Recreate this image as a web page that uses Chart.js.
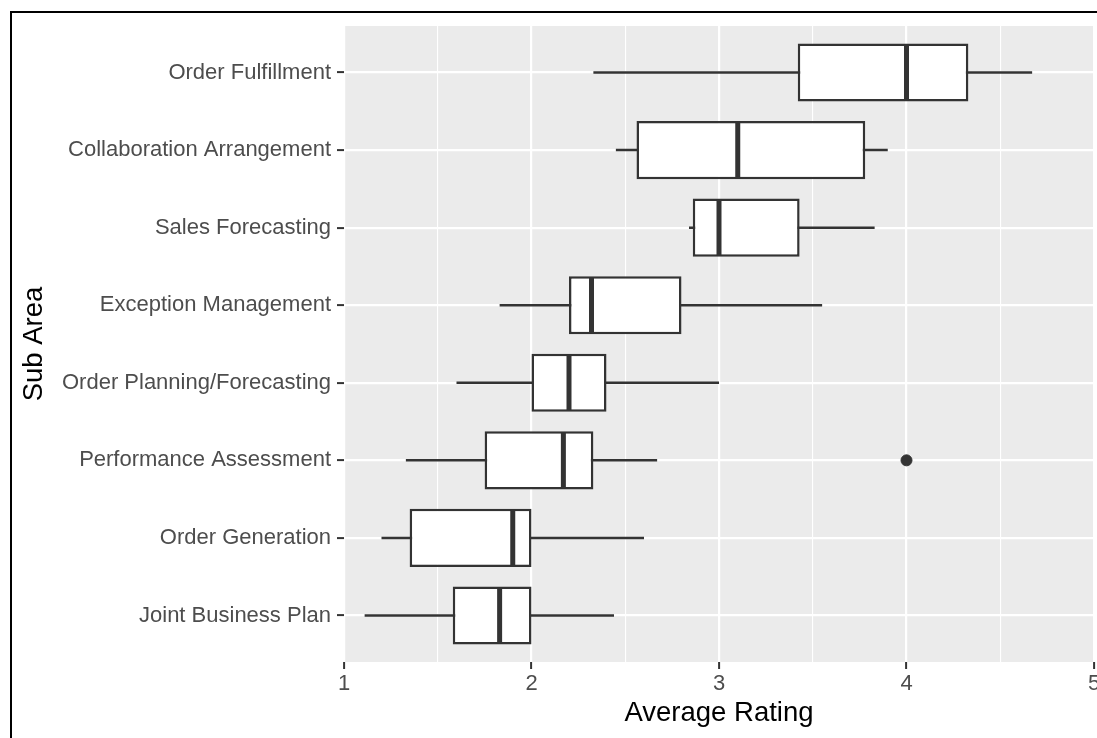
<!DOCTYPE html>
<html>
<head>
<meta charset="utf-8">
<script src="https://cdn.jsdelivr.net/npm/chart.js@4.4.1/dist/chart.umd.min.js"></script>
<style>
  html, body { margin: 0; padding: 0; background: #fff; overflow: hidden; }
  #wrap { width: 1112px; height: 738px; }
</style>
</head>
<body>
<div id="wrap"><canvas id="boxChart" width="1112" height="738"></canvas></div>
<script>
// Sub areas, top to bottom
var subAreas = [
    "Order Fulfillment",
    "Collaboration Arrangement",
    "Sales Forecasting",
    "Exception Management",
    "Order Planning/Forecasting",
    "Performance Assessment",
    "Order Generation",
    "Joint Business Plan"
];

// box plot stats
var whiskerLow  = [2.33, 2.45, 2.84, 1.83, 1.60, 1.33, 1.20, 1.11];
var q1          = [3.42, 2.56, 2.86, 2.20, 2.00, 1.75, 1.35, 1.58];
var median      = [4.00, 3.10, 3.00, 2.32, 2.20, 2.17, 1.90, 1.83];
var q3          = [4.33, 3.78, 3.43, 2.80, 2.40, 2.33, 2.00, 2.00];
var whiskerHigh = [4.67, 3.90, 3.83, 3.55, 3.00, 2.67, 2.60, 2.44];

var outlierArea  = ["Performance Assessment"];
var outlierValue = [4.00];

var xTicks = [1, 1.5, 2, 2.5, 3, 3.5, 4, 4.5, 5];

var lineColor = "#333333";

// panel background + outer frame
var panelPlugin = {
    id: "panel",
    beforeDraw: function (chart) {
        var ctx = chart.ctx, a = chart.chartArea;
        ctx.save();
        ctx.fillStyle = "#ffffff";
        ctx.fillRect(0, 0, chart.width, chart.height);
        ctx.lineWidth = 2;
        ctx.strokeStyle = "#000000";
        ctx.strokeRect(11, 12, 2000, 2000);
        ctx.fillStyle = "#EBEBEB";
        ctx.fillRect(a.left, a.top, a.right - a.left, a.bottom - a.top);
        ctx.restore();
    }
};

// whiskers under the boxes, medians on top
var boxPlugin = {
    id: "boxParts",
    beforeDatasetsDraw: function (chart) {
        var ctx = chart.ctx, xs = chart.scales.x, ys = chart.scales.y;
        ctx.save();
        ctx.strokeStyle = lineColor;
        ctx.lineWidth = 2.5;
        for (var i = 0; i < subAreas.length; i++) {
            var y = ys.getPixelForValue(i + 1);
            ctx.beginPath();
            ctx.moveTo(xs.getPixelForValue(whiskerLow[i]), y);
            ctx.lineTo(xs.getPixelForValue(whiskerHigh[i]), y);
            ctx.stroke();
        }
        ctx.restore();
    },
    afterDatasetsDraw: function (chart) {
        var ctx = chart.ctx, xs = chart.scales.x, ys = chart.scales.y;
        var half = (ys.getPixelForValue(1.375) - ys.getPixelForValue(1));
        ctx.save();
        ctx.strokeStyle = lineColor;
        ctx.lineWidth = 5;
        for (var i = 0; i < subAreas.length; i++) {
            var y = ys.getPixelForValue(i + 1);
            var x = xs.getPixelForValue(median[i]);
            ctx.beginPath();
            ctx.moveTo(x, y - half + 1);
            ctx.lineTo(x, y + half - 1);
            ctx.stroke();
        }
        ctx.restore();
    }
};

var boxes = {
    type: "bar",
    label: "IQR",
    data: subAreas.map(function (s, i) { return { y: i + 1, x: [q1[i], q3[i]] }; }),
    backgroundColor: "#ffffff",
    borderColor: lineColor,
    borderWidth: 2.5,
    borderSkipped: false,
    categoryPercentage: 0.75,
    barPercentage: 1,
    order: 2
};

var outliers = {
    type: "scatter",
    label: "Outliers",
    data: outlierArea.map(function (s, i) { return { x: outlierValue[i], y: subAreas.indexOf(s) + 1 }; }),
    backgroundColor: lineColor,
    borderColor: lineColor,
    pointRadius: 5.5,
    order: 1
};

var config = {
    type: "bar",
    data: { datasets: [boxes, outliers] },
    options: {
        indexAxis: "y",
        responsive: false,
        animation: false,
        devicePixelRatio: 1,
        layout: { padding: { left: 11, top: 26, right: 18, bottom: 0 } },
        plugins: {
            legend: { display: false },
            tooltip: { enabled: false }
        },
        scales: {
            x: {
                type: "linear",
                axis: "x",
                position: "bottom",
                min: 1,
                max: 5,
                afterBuildTicks: function (axis) {
                    axis.ticks = xTicks.map(function (v) { return { value: v }; });
                },
                afterFit: function (axis) { axis.height = 76; },
                border: { display: false },
                grid: {
                    color: "#ffffff",
                    lineWidth: function (c) { return c.tick && c.tick.value % 1 === 0 ? 2.2 : 1.1; },
                    tickColor: function (c) { return c.tick && c.tick.value % 1 === 0 ? lineColor : "rgba(0,0,0,0)"; },
                    tickWidth: 2,
                    tickLength: 7
                },
                ticks: {
                    padding: 2,
                    color: "#4D4D4D",
                    font: { family: "'Liberation Sans', Arial, sans-serif", size: 22 },
                    maxRotation: 0,
                    autoSkip: false,
                    callback: function (v) { return v % 1 === 0 ? String(v) : ""; }
                },
                title: {
                    display: true,
                    text: "Average Rating",
                    color: "#000000",
                    font: { family: "'Liberation Sans', Arial, sans-serif", size: 27.5 },
                    padding: { top: 0, bottom: 8 }
                }
            },
            y: {
                type: "linear",
                axis: "y",
                position: "left",
                reverse: true,
                offset: false,
                min: 0.4,
                max: 8.6,
                afterBuildTicks: function (axis) {
                    axis.ticks = subAreas.map(function (s, i) { return { value: i + 1 }; });
                },
                afterFit: function (axis) { axis.width = 333; },
                border: { display: false },
                grid: {
                    offset: false,
                    color: "#ffffff",
                    lineWidth: 2.2,
                    tickColor: lineColor,
                    tickWidth: 2,
                    tickLength: 7
                },
                ticks: {
                    padding: 6,
                    color: "#4D4D4D",
                    font: { family: "'Liberation Sans', Arial, sans-serif", size: 22 },
                    autoSkip: false,
                    callback: function (v) { return subAreas[v - 1]; }
                },
                title: {
                    display: true,
                    text: "Sub Area",
                    color: "#000000",
                    font: { family: "'Liberation Sans', Arial, sans-serif", size: 27.5 },
                    padding: { top: 7, bottom: 0 }
                }
            }
        }
    },
    plugins: [panelPlugin, boxPlugin]
};

var ctx = document.getElementById("boxChart").getContext("2d");
var chart = new Chart(ctx, config);
</script>
</body>
</html>
